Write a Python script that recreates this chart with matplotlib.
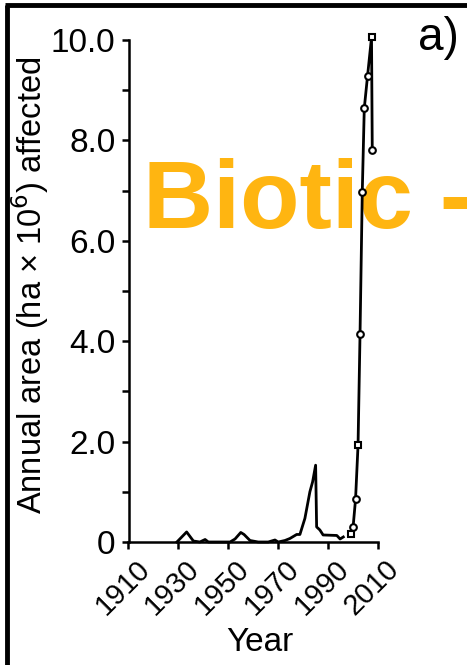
import matplotlib
matplotlib.use('Agg')
import matplotlib.pyplot as plt
from matplotlib.lines import Line2D
from matplotlib.ticker import MultipleLocator, FuncFormatter
from matplotlib.transforms import ScaledTranslation

plt.rcParams['font.family'] = ['Liberation Sans', 'DejaVu Sans']

# Earlier record (no markers)
early_years = [1929.4, 1933.3, 1936.0, 1938.6, 1940.7, 1942.0, 1950.7, 1952.7,
               1955.0, 1956.3, 1958.7, 1962.0, 1966.0, 1968.7, 1970.0, 1972.7,
               1974.7, 1977.4, 1978.7, 1980.7, 1982.7, 1983.8, 1985.0, 1985.4,
               1986.7, 1988.0, 1993.5, 1994.8, 1996.1]
early_area = [0.0, 0.2, 0.02, 0.0, 0.05, 0.0, 0.0, 0.06,
              0.19, 0.15, 0.03, 0.0, 0.0, 0.04, 0.0, 0.03,
              0.07, 0.15, 0.15, 0.47, 1.0, 1.2, 1.53, 0.3,
              0.24, 0.14, 0.13, 0.06, 0.1]

# Recent outbreak (marked points)
recent_years = [1999.0, 2000.0, 2001.0, 2002.0, 2002.8, 2003.7, 2004.5, 2005.8, 2007.4, 2007.7]
recent_area = [0.16, 0.29, 0.85, 1.93, 4.15, 6.98, 8.64, 9.28, 10.05, 7.81]
recent_marks = ['s', 'o', 'o', 's', 'o', 'o', 'o', 'o', 's', 'o']

x_ticks = [1910, 1930, 1950, 1970, 1990, 2010]

W, H = 467, 665
fig = plt.figure(figsize=(W / 100, H / 100), dpi=100)
fig.patch.set_facecolor('white')
ax = fig.add_axes([128.5 / W, (H - 542) / H, (378 - 128.5) / W, (542 - 40) / H])

ax.plot(early_years, early_area, color='black', lw=2.0, zorder=3, clip_on=False)
ax.plot(recent_years, recent_area, color='black', lw=2.0, zorder=3, clip_on=False)
for x, y, m in zip(recent_years, recent_area, recent_marks):
    ax.plot(x, y, marker=m, ms=4.8, mfc='white', mec='black', mew=1.5,
            zorder=4, clip_on=False)

ax.set_xlim(1910, 2010)
ax.set_ylim(0, 10)
ax.set_xticks(x_ticks)
ax.yaxis.set_major_locator(MultipleLocator(2))
ax.yaxis.set_minor_locator(MultipleLocator(1))
ax.yaxis.set_major_formatter(FuncFormatter(lambda v, p: '0' if v == 0 else f'{v:.1f}'))

for s in ['top', 'right']:
    ax.spines[s].set_visible(False)
for s in ['left', 'bottom']:
    ax.spines[s].set_linewidth(1.8)

ax.tick_params(axis='y', which='both', direction='out', length=5, width=1.8,
               labelsize=24, pad=4.5)
ax.tick_params(axis='x', direction='out', length=5, width=1.8, labelsize=21, pad=4)

offset = ScaledTranslation(-6 / 100, 0, fig.dpi_scale_trans)
for lab in ax.get_xticklabels():
    lab.set_rotation(45)
    lab.set_ha('center')
    lab.set_va('top')
    lab.set_transform(lab.get_transform() + offset)

ax.set_ylabel('Annual area (ha \u00d7 10$^{6}$) affected', fontsize=23.5)
ax.yaxis.set_label_coords(-0.31, 0.512)
ax.set_xlabel('Year', fontsize=24)
ax.xaxis.set_label_coords(0.527, -0.17)

# Big overlay label sits under the data line
ax.text(143 / W, (H - 228) / H, 'Biotic -', transform=fig.transFigure,
        fontsize=70, fontweight='bold', color='#FFB511', ha='left', va='baseline',
        zorder=1, clip_on=False)

fig.text(418 / W, (H - 50) / H, 'a)', fontsize=33, ha='left', va='baseline')

# Panel frame, left and top edges
fig.add_artist(Line2D([7 / W, 7 / W], [0, 1 - 5 / H], transform=fig.transFigure,
                      color='black', lw=3.5, solid_capstyle='butt'))
fig.add_artist(Line2D([5 / W, 1], [1 - 5 / H, 1 - 5 / H], transform=fig.transFigure,
                      color='black', lw=3.5, solid_capstyle='butt'))

fig.savefig('out.png', dpi=100)
